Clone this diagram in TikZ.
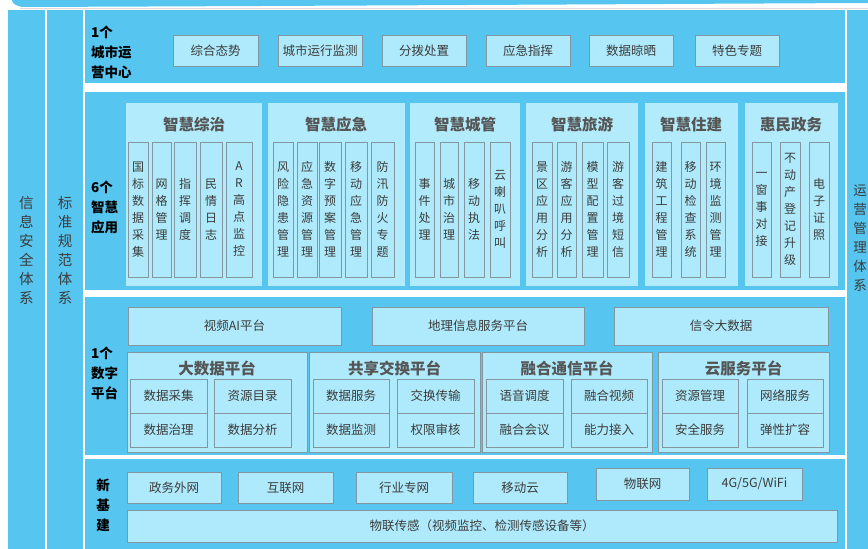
\documentclass[tikz,border=0pt]{standalone}
\usepackage{fontspec}
\setmainfont{Noto Sans CJK SC}
\definecolor{bmain}{HTML}{56C6F0}
\definecolor{blite}{HTML}{AEEAFB}
\definecolor{bgrp}{HTML}{B2ECFC}
\definecolor{bord}{HTML}{8497A0}
\definecolor{txt}{HTML}{3C3C3C}
\definecolor{ttl}{HTML}{555555}
\newcommand\bx[7]{\node[#6, minimum width={(#4-#2)*1pt}, minimum height={(#5-#3)*1pt}] (#1) at ({(#2+#4)/2},{(#3+#5)/2}) {#7};}
\tikzset{
  base/.style={inner sep=0pt, outer sep=0pt, rectangle},
  panel/.style={base, fill=bmain},
  lbox/.style={base, fill=blite, draw=bord, line width=0.8pt, text=txt, font=\fontsize{12.5}{15}\selectfont},
  vbox/.style={base, fill=blite, draw=bord, line width=0.8pt, text=txt, align=center, font=\fontsize{12}{17}\selectfont},
  grp/.style={base, fill=bgrp},
  gtitle/.style={text=ttl, font=\bfseries\fontsize{15.5}{18}\selectfont, inner sep=0pt},
  rowlab/.style={text=black, font=\bfseries\fontsize{13.5}{20}\selectfont, align=left, anchor=west, inner sep=0pt},
  sidelab/.style={text=txt, align=center, font=\fontsize{14.5}{19}\selectfont, inner sep=0pt}
}
\begin{document}
\begin{tikzpicture}[x=1pt,y=-1pt]
\useasboundingbox (0,0) rectangle (868,549);
% top arc
\fill[bmain] (12,0) -- (868,0) -- (868,3) .. controls (650,4) and (300,6) .. (22,7) .. controls (16,6) and (12,3) .. (12,0);
\draw[line width=0.6pt, color={rgb,255:red,240;green,215;blue,215}] (20,8) -- (868,8);
% side columns
\bx{secc}{8}{10}{45}{549}{panel}{}
\bx{stdc}{47}{10}{83}{549}{panel}{}
\bx{opsc}{847}{10}{880}{549}{panel}{}
\node[sidelab] (seclab) at (26.5,250) {信\\息\\安\\全\\体\\系};
\node[sidelab] (stdlab) at (65,250) {标\\准\\规\\范\\体\\系};
\node[sidelab, font=\fontsize{13.5}{19}\selectfont] (opslab) at (860,238) {运\\营\\管\\理\\体\\系};
% row panels
\bx{r1}{85}{10}{845}{83}{panel}{}
\bx{r2}{85}{92}{845}{290}{panel}{}
\bx{r3}{85}{297}{845}{455}{panel}{}
\bx{r4}{85}{459}{845}{549}{panel}{}
% row 1
\node[rowlab] (l1) at (91,52) {1个\\城市运\\营中心};
\bx{a1}{173}{35}{258}{66}{lbox}{综合态势}
\bx{a2}{278}{35}{362}{66}{lbox}{城市运行监测}
\bx{a3}{382}{35}{466}{66}{lbox}{分拨处置}
\bx{a4}{486}{35}{570}{66}{lbox}{应急指挥}
\bx{a5}{589}{35}{673}{66}{lbox}{数据晾晒}
\bx{a6}{695}{35}{779}{66}{lbox}{特色专题}
% row 2
\node[rowlab] (l2) at (91,207) {6个\\智慧\\应用};
\bx{g1}{126}{103}{262}{286}{grp}{}
\bx{g2}{268}{103}{405}{286}{grp}{}
\bx{g3}{410}{103}{520}{286}{grp}{}
\bx{g4}{526}{103}{638}{286}{grp}{}
\bx{g5}{645}{103}{738}{286}{grp}{}
\bx{g6}{745}{103}{838}{286}{grp}{}
\node[gtitle] (t1) at (194,125) {智慧综治};
\node[gtitle] (t2) at (336,125) {智慧应急};
\node[gtitle] (t3) at (465,125) {智慧城管};
\node[gtitle] (t4) at (582,125) {智慧旅游};
\node[gtitle] (t5) at (691,125) {智慧住建};
\node[gtitle] (t6) at (791,125) {惠民政务};
\bx{v11}{128}{142}{148}{277}{vbox}{国\\标\\数\\据\\采\\集}
\bx{v12}{152}{142}{171}{277}{vbox}{网\\格\\管\\理}
\bx{v13}{174}{142}{196}{277}{vbox}{指\\挥\\调\\度}
\bx{v14}{200}{142}{222}{277}{vbox}{民\\情\\日\\志}
\bx{v15}{226}{142}{252}{277}{vbox}{A\\R\\高\\点\\监\\控}
\bx{v21}{273}{142}{293}{277}{vbox}{风\\险\\隐\\患\\管\\理}
\bx{v22}{297}{142}{317}{277}{vbox}{应\\急\\资\\源\\管\\理}
\bx{v23}{319}{142}{341}{277}{vbox}{数\\字\\预\\案\\管\\理}
\bx{v24}{345}{142}{367}{277}{vbox}{移\\动\\应\\急\\管\\理}
\bx{v25}{371}{142}{394}{277}{vbox}{防\\汛\\防\\火\\专\\题}
\bx{v31}{415}{142}{434}{277}{vbox}{事\\件\\处\\理}
\bx{v32}{440}{142}{458}{277}{vbox}{城\\市\\治\\理}
\bx{v33}{464}{142}{484}{277}{vbox}{移\\动\\执\\法}
\bx{v34}{490}{142}{510}{277}{vbox}{云\\喇\\叭\\呼\\叫}
\bx{v41}{532}{142}{552}{277}{vbox}{景\\区\\应\\用\\分\\析}
\bx{v42}{557}{142}{576}{277}{vbox}{游\\客\\应\\用\\分\\析}
\bx{v43}{582}{142}{603}{277}{vbox}{模\\型\\配\\置\\管\\理}
\bx{v44}{607}{142}{629}{277}{vbox}{游\\客\\过\\境\\短\\信}
\bx{v51}{652}{142}{671}{277}{vbox}{建\\筑\\工\\程\\管\\理}
\bx{v52}{681}{142}{700}{277}{vbox}{移\\动\\检\\查\\系\\统}
\bx{v53}{706}{142}{725}{277}{vbox}{环\\境\\监\\测\\管\\理}
\bx{v61}{752}{142}{771}{277}{vbox}{一\\窗\\事\\对\\接}
\bx{v62}{780}{142}{800}{277}{vbox}{不\\动\\产\\登\\记\\升\\级}
\bx{v63}{809}{142}{829}{277}{vbox}{电\\子\\证\\照}
% row 3
\node[rowlab] (l3) at (91,373) {1个\\数字\\平台};
\bx{p1}{128}{307}{341}{345}{lbox}{视频AI平台}
\bx{p2}{372}{307}{584}{345}{lbox}{地理信息服务平台}
\bx{p3}{614}{307}{828}{345}{lbox}{信令大数据}
\bx{q1}{127}{352}{307}{452}{lbox}{}
\bx{q2}{309}{352}{480}{452}{lbox}{}
\bx{q3}{482}{352}{652}{452}{lbox}{}
\bx{q4}{658}{352}{829}{452}{lbox}{}
\node[gtitle] (u1) at (217,368) {大数据平台};
\node[gtitle] (u2) at (394.5,368) {共享交换平台};
\node[gtitle] (u3) at (567,368) {融合通信平台};
\node[gtitle] (u4) at (743.5,368) {云服务平台};
\bx{s11}{130}{379}{207}{413}{lbox}{数据采集}
\bx{s12}{214}{379}{291}{413}{lbox}{资源目录}
\bx{s13}{130}{413}{207}{447}{lbox}{数据治理}
\bx{s14}{214}{413}{291}{447}{lbox}{数据分析}
\bx{s21}{313}{379}{389}{413}{lbox}{数据服务}
\bx{s22}{397}{379}{474}{413}{lbox}{交换传输}
\bx{s23}{313}{413}{389}{447}{lbox}{数据监测}
\bx{s24}{397}{413}{474}{447}{lbox}{权限审核}
\bx{s31}{486}{379}{563}{413}{lbox}{语音调度}
\bx{s32}{571}{379}{647}{413}{lbox}{融合视频}
\bx{s33}{486}{413}{563}{447}{lbox}{融合会议}
\bx{s34}{571}{413}{647}{447}{lbox}{能力接入}
\bx{s41}{662}{379}{738}{413}{lbox}{资源管理}
\bx{s42}{747}{379}{823}{413}{lbox}{网络服务}
\bx{s43}{662}{413}{738}{447}{lbox}{安全服务}
\bx{s44}{747}{413}{823}{447}{lbox}{弹性扩容}
% row 4
\node[rowlab, align=center, anchor=center] (l4) at (103,505) {新\\基\\建};
\bx{n1}{127}{472}{221}{503}{lbox}{政务外网}
\bx{n2}{238}{472}{333}{503}{lbox}{互联网}
\bx{n3}{356}{472}{452}{503}{lbox}{行业专网}
\bx{n4}{473}{472}{567}{503}{lbox}{移动云}
\bx{n5}{596}{468}{689}{500}{lbox}{物联网}
\bx{n6}{707}{468}{802}{500}{lbox}{4G/5G/WiFi}
\bx{n7}{127}{510}{837}{542}{lbox}{物联传感（视频监控、检测传感设备等）}
\end{tikzpicture}
\end{document}
